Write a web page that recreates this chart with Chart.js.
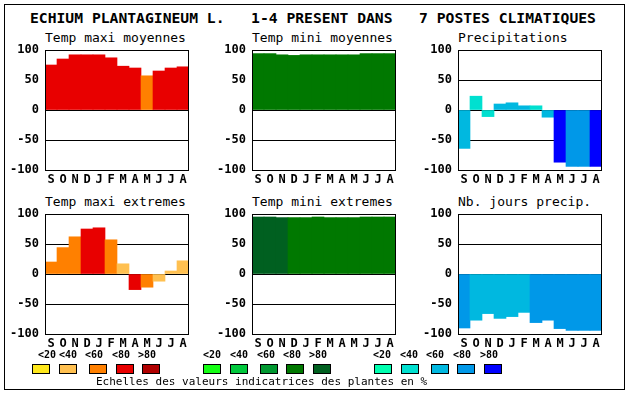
<!DOCTYPE html>
<html>
<head>
<meta charset="utf-8">
<script src="https://cdn.jsdelivr.net/npm/chart.js@4"></script>
<style>
  body { margin: 0; background: #fff; }
  #page { position: relative; width: 630px; height: 394px; background: #fff; overflow: hidden; }
  #page .frame { position: absolute; left: 4px; top: 4px; width: 619px; height: 384px; border: 1px solid #000; }
  .txt { position: absolute; white-space: pre; font-family: "DejaVu Sans Mono", monospace; color: #000; line-height: 1; }
  .main { font-size: 14.7px; font-weight: bold; }
  .ptitle { font-size: 13px; }
  .cls { font-size: 10px; font-weight: bold; }
  .note { font-size: 11px; }
  .swatch { position: absolute; width: 16px; height: 8px; border: 1px solid #000; }
  canvas { position: absolute; }
</style>
</head>
<body>
<div id="page">
  <div class="frame"></div>
  <div class="txt main" style="left:30px; top:11px;">ECHIUM PLANTAGINEUM L.   1-4 PRESENT DANS   7 POSTES CLIMATIQUES</div>
</div>
<script>
// data
const months = ['S', 'O', 'N', 'D', 'J', 'F', 'M', 'A', 'M', 'J', 'J', 'A'];
const yTicks = [-100, -50, 0, 50, 100];
const classLabels = ['<20', '<40', '<60', '<80', '>80'];

const warm = ['#ffe81c', '#ffc050', '#ff8000', '#e80000', '#b00000'];
const greens = ['#14ff14', '#00c83c', '#009830', '#007800', '#006020'];
const blues = ['#00ffb0', '#00e0d0', '#00b8e0', '#0098e8', '#0000ff'];

const tmaxMoy = [75, 85, 92, 92, 92, 87, 73, 70, 57, 65, 70, 72];
const tmaxMoyCls = [3, 3, 3, 3, 3, 3, 3, 3, 2, 3, 3, 3];
const tminMoy = [94, 94, 92, 91, 92, 92, 92, 92, 92, 94, 94, 94];
const tminMoyCls = [3, 3, 3, 3, 3, 3, 3, 3, 3, 3, 3, 3];
const precip = [-64, 23, -11, 10, 12, 7, 7, -12, -87, -94, -94, -94];
const precipCls = [2, 1, 1, 2, 2, 2, 1, 2, 4, 3, 3, 4];
const tmaxExt = [20, 44, 62, 75, 77, 57, 17, -26, -22, -12, 5, 22];
const tmaxExtCls = [2, 2, 2, 3, 3, 2, 1, 3, 2, 1, 1, 1];
const tminExt = [95, 95, 94, 94, 94, 95, 94, 94, 94, 95, 95, 95];
const tminExtCls = [4, 4, 4, 3, 3, 3, 3, 3, 3, 3, 3, 3];
const joursPrecip = [-90, -77, -66, -74, -71, -64, -81, -77, -91, -94, -94, -94];
const joursPrecipCls = [3, 2, 2, 2, 2, 2, 3, 3, 3, 3, 3, 3];

const panels = [
  { title: 'Temp maxi moyennes', values: tmaxMoy, cls: tmaxMoyCls, pal: warm, x: 45, y: 50 },
  { title: 'Temp mini moyennes', values: tminMoy, cls: tminMoyCls, pal: greens, x: 252, y: 50 },
  { title: 'Precipitations', values: precip, cls: precipCls, pal: blues, x: 458, y: 50 },
  { title: 'Temp maxi extremes', values: tmaxExt, cls: tmaxExtCls, pal: warm, x: 45, y: 214 },
  { title: 'Temp mini extremes', values: tminExt, cls: tminExtCls, pal: greens, x: 252, y: 214 },
  { title: 'Nb. jours precip.', values: joursPrecip, cls: joursPrecipCls, pal: blues, x: 458, y: 214 }
];

// legend rows under the lower panels
const legendGroups = [
  { pal: warm, labelX: [38, 59, 85, 112, 138], boxX: [32, 59, 89, 116, 142] },
  { pal: greens, labelX: [203, 230, 257, 283, 309], boxX: [203, 230, 260, 286, 313] },
  { pal: blues, labelX: [373, 400, 426, 453, 480], boxX: [374, 401, 431, 457, 484] }
];

const page = document.getElementById('page');
const font = { family: 'DejaVu Sans Mono', size: 12, weight: 'bold' };
const PADTOP = 16, XH = 20, W = 188, H = PADTOP + 120 + XH;

// black box round each plot area
const frame = {
  id: 'frame',
  afterDraw(chart) {
    const a = chart.chartArea, ctx = chart.ctx;
    ctx.save();
    ctx.strokeStyle = '#000';
    ctx.lineWidth = 1;
    ctx.strokeRect(Math.round(a.left) + 0.5, Math.round(a.top) + 0.5,
      Math.round(a.right - a.left) - 1, Math.round(a.bottom - a.top));
    ctx.restore();
  }
};

for (let p of panels) {
  let t = document.createElement('div');
  t.className = 'txt ptitle';
  t.style.left = p.x + 'px';
  t.style.top = (p.y - 19) + 'px';
  t.textContent = p.title;
  page.appendChild(t);

  let cv = document.createElement('canvas');
  cv.style.left = (p.x - 40) + 'px';
  cv.style.top = (p.y - PADTOP) + 'px';
  cv.style.width = W + 'px';
  cv.style.height = H + 'px';
  cv.width = W;
  cv.height = H;
  page.appendChild(cv);

  new Chart(cv.getContext('2d'), {
    type: 'bar',
    data: {
      labels: months,
      datasets: [{
        data: p.values,
        backgroundColor: p.cls.map(c => p.pal[c]),
        borderWidth: 0,
        categoryPercentage: 1,
        barPercentage: 1
      }]
    },
    options: {
      responsive: false,
      animation: false,
      devicePixelRatio: 1,
      layout: { padding: { top: PADTOP, right: 4, left: 0, bottom: 0 } },
      plugins: { legend: { display: false }, tooltip: { enabled: false } },
      scales: {
        x: {
          grid: { display: false, drawTicks: false },
          border: { display: false },
          ticks: { font: font, color: '#000', autoSkip: false, maxRotation: 0, padding: 3 },
          afterFit(scale) { scale.height = XH; }
        },
        y: {
          min: -100,
          max: 100,
          z: 1,
          afterBuildTicks(scale) { scale.ticks = yTicks.map(v => ({ value: v })); },
          grid: { color: '#000', lineWidth: 1, drawTicks: false },
          border: { display: false },
          ticks: { font: font, color: '#000', padding: 6 },
          afterFit(scale) { scale.width = 40; }
        }
      }
    },
    plugins: [frame]
  });
}

for (let g of legendGroups) {
  g.pal.forEach((col, i) => {
    let l = document.createElement('div');
    l.className = 'txt cls';
    l.style.left = g.labelX[i] + 'px';
    l.style.top = '350px';
    l.textContent = classLabels[i];
    page.appendChild(l);

    let b = document.createElement('div');
    b.className = 'swatch';
    b.style.left = g.boxX[i] + 'px';
    b.style.top = '364px';
    b.style.background = col;
    page.appendChild(b);
  });
}

let note = document.createElement('div');
note.className = 'txt note';
note.style.left = '96px';
note.style.top = '376px';
note.textContent = 'Echelles des valeurs indicatrices des plantes en %';
page.appendChild(note);
</script>
</body>
</html>
